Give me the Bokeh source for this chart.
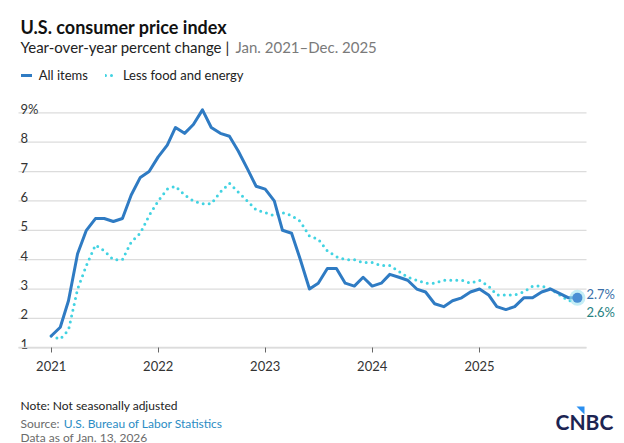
import pandas as pd
from bokeh.plotting import figure
from bokeh.models import (Range1d, FixedTicker, DatetimeTickFormatter, Label,
                          Legend, LegendItem, PolyAnnotation)
from bokeh.core.properties import value
from bokeh.embed import file_html
from bokeh.resources import INLINE

# ---------------- data ----------------
# monthly, Jan 2021 - Dec 2025 (no Oct 2025 reading)
months = [d for d in pd.date_range("2021-01-01", "2025-12-01", freq="MS")
          if d != pd.Timestamp("2025-10-01")]

all_items = [1.4, 1.7, 2.6, 4.2, 5.0, 5.4, 5.4, 5.3, 5.4, 6.2, 6.8, 7.0,
             7.5, 7.9, 8.5, 8.3, 8.6, 9.1, 8.5, 8.3, 8.2, 7.7, 7.1, 6.5,
             6.4, 6.0, 5.0, 4.9, 4.0, 3.0, 3.2, 3.7, 3.7, 3.2, 3.1, 3.4,
             3.1, 3.2, 3.5, 3.4, 3.3, 3.0, 2.9, 2.5, 2.4, 2.6, 2.7, 2.9,
             3.0, 2.8, 2.4, 2.3, 2.4, 2.7, 2.7, 2.9, 3.0, 2.7, 2.7]

core = [1.4, 1.3, 1.6, 3.0, 3.8, 4.5, 4.3, 4.0, 4.0, 4.6, 4.9, 5.5,
        6.0, 6.4, 6.5, 6.2, 6.0, 5.9, 5.9, 6.3, 6.6, 6.3, 6.0, 5.7,
        5.6, 5.5, 5.6, 5.5, 5.3, 4.8, 4.7, 4.3, 4.1, 4.0, 4.0, 3.9,
        3.9, 3.8, 3.8, 3.6, 3.4, 3.3, 3.2, 3.2, 3.3, 3.3, 3.3, 3.2,
        3.3, 3.1, 2.8, 2.8, 2.8, 2.9, 3.1, 3.1, 3.0, 2.6, 2.6]

year_ticks = [2021, 2022, 2023, 2024, 2025]
y_ticks = [1, 2, 3, 4, 5, 6, 7, 8, 9]
y_tick_labels = ["1", "2", "3", "4", "5", "6", "7", "8", "9%"]
end_labels = ["2.7%", "2.6%"]
series_names = ["All items", "Less food and energy"]

# ---------------- style ----------------
FONT = "Lato"
BLUE = "#2f7bc3"
CYAN = "#42d3e2"
GRID = "#dcdcdc"
W, H = 624, 443

T0 = pd.Timestamp("2021-01-01")
x_start = T0 - pd.Timedelta(days=172.9)
x_end = T0 + pd.Timedelta(days=1955.6)
grid_start = T0 - pd.Timedelta(days=111.5)
grid_end = T0 + pd.Timedelta(days=1826)


def ms(t):
    return t.value / 1e6


p = figure(width=W, height=H, output_backend="svg", toolbar_location=None,
           x_axis_type="datetime", y_axis_location=None,
           x_range=Range1d(x_start, x_end), y_range=Range1d(-2.258, 12.823),
           min_border=0)
p.outline_line_color = None
p.background_fill_color = "white"
p.border_fill_color = "white"
p.xgrid.visible = False
p.ygrid.visible = False

# horizontal gridlines
p.segment(x0=[grid_start] * len(y_ticks), x1=[grid_end] * len(y_ticks),
          y0=y_ticks, y1=y_ticks, line_color=GRID, line_width=1.3)

ax = p.xaxis[0]
ax.fixed_location = 1
ax.bounds = (ms(grid_start), ms(grid_end))
ax.ticker = FixedTicker(ticks=[ms(pd.Timestamp(f"{y}-01-01")) for y in year_ticks])
ax.formatter = DatetimeTickFormatter(years="%Y", months="%Y", days="%Y",
                                     hours="%Y", minutes="%Y", seconds="%Y")
ax.axis_line_color = GRID
ax.axis_line_width = 1.3
ax.major_tick_line_color = "#666666"
ax.major_tick_out = 5
ax.major_tick_in = 0
ax.minor_tick_line_color = None
ax.major_label_text_font = FONT
ax.major_label_text_font_size = "13px"
ax.major_label_text_color = "#333333"
ax.major_label_standoff = 8

# lines
r_core = p.line(months, core, line_color=CYAN, line_width=3, line_dash="0 6",
                line_cap="round")
r_all = p.line(months, all_items, line_color=BLUE, line_width=3,
               line_join="round", line_cap="round")

# end markers
p.scatter([months[-1]], [all_items[-1]], size=16, fill_color="#9fe3ee",
          fill_alpha=0.6, line_color=None)
p.scatter([months[-1]], [all_items[-1]], size=10, fill_color="#4a8fd4",
          line_color=None)

# y tick labels (above gridlines, at left)
p.text(x=[grid_start] * len(y_ticks), y=y_ticks, text=y_tick_labels,
       text_font=value(FONT), text_font_size="13px", text_color="#333333",
       text_align="left", text_baseline="alphabetic", x_offset=2, y_offset=-4)

# end labels
last_ms = ms(months[-1])
p.add_layout(Label(x=last_ms, y=all_items[-1], text=end_labels[0], x_offset=9,
                   y_offset=3.4, text_font=FONT, text_font_size="13px",
                   text_color="#3a6fa8", text_baseline="alphabetic"))
p.add_layout(Label(x=last_ms, y=core[-1], text=end_labels[1], x_offset=9,
                   y_offset=-11.4, text_font=FONT, text_font_size="13px",
                   text_color="#278282", text_baseline="alphabetic"))

# legend
legend = Legend(items=[LegendItem(label=series_names[0], renderers=[r_all]),
                       LegendItem(label=series_names[1], renderers=[r_core])],
                orientation="horizontal", location=(20.7, 360.3),
                border_line_color=None, background_fill_alpha=0,
                padding=0, margin=0, spacing=17, label_standoff=7,
                glyph_width=11, glyph_height=14, label_height=14,
                label_text_font=FONT, label_text_font_size="13px",
                label_text_color="#222222")
p.add_layout(legend)


def lab(text, x, base, size, color, bold=False):
    p.add_layout(Label(x=x, y=H - base, x_units="screen", y_units="screen",
                       text=text, text_font=FONT, text_font_size=size,
                       text_color=color, text_baseline="alphabetic",
                       text_font_style="bold" if bold else "normal"))


lab("U.S. consumer price index", 20, 26, "18px", "#111111", bold=True)
lab("Year-over-year percent change |", 20, 46.7, "15px", "#222222")
lab("Jan. 2021\u2013Dec. 2025", 235, 46.7, "15px", "#7a7a7a")
lab("Note: Not seasonally adjusted", 20, 405, "12px", "#222222")
lab("Source:", 20, 422.5, "12px", "#6b6b6b")
lab("U.S. Bureau of Labor Statistics", 63.3, 422.5, "12px", "#2b8cc4")
lab("Data as of Jan. 13, 2026", 20, 436.5, "12px", "#6b6b6b")
lab("CNBC", 555, 421, "21px", "#1c2452", bold=True)

# logo accent
p.add_layout(PolyAnnotation(xs=[576, 584, 584], ys=[H - 406, H - 406, H - 414],
                            xs_units="screen", ys_units="screen",
                            fill_color="#2a8ff0", fill_alpha=1, line_color=None))

open("out.html", "w").write(file_html(p, INLINE))
